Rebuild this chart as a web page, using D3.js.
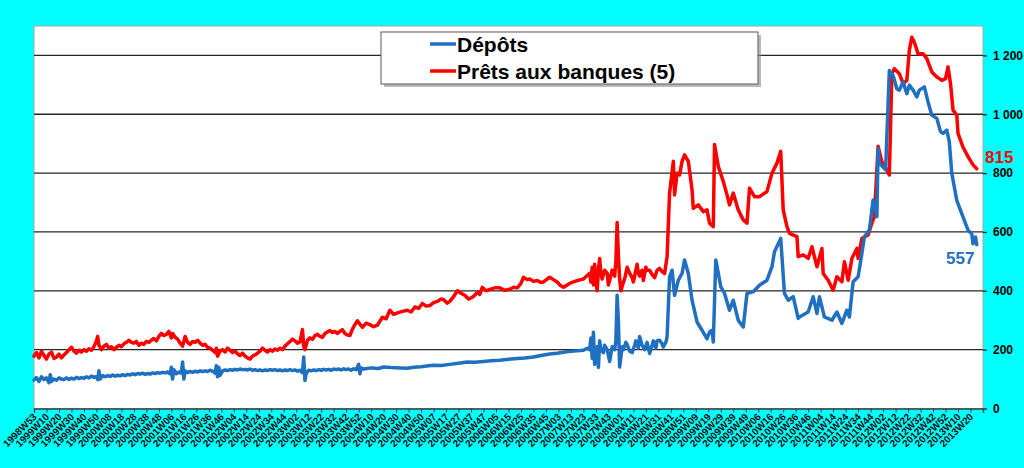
<!DOCTYPE html>
<html>
<head>
<meta charset="utf-8">
<script src="https://cdn.jsdelivr.net/npm/d3@7"></script>
<style>
  html, body { margin: 0; padding: 0; background: #00ffff; }
  svg { display: block; font-family: "Liberation Sans", Arial, sans-serif; }
</style>
</head>
<body>
<div id="chart"></div>
<script>
// week labels shown on the axis, one every 10 weeks (index 0, 10, 20 ...)
const weekLabels = [
  "1998W53", "1999W10", "1999W20", "1999W30", "1999W40", "1999W50",
  "2000W08", "2000W18", "2000W28", "2000W38", "2000W48",
  "2001W06", "2001W16", "2001W26", "2001W36", "2001W46",
  "2002W04", "2002W14", "2002W24", "2002W34", "2002W44",
  "2003W02", "2003W12", "2003W22", "2003W32", "2003W42", "2003W52",
  "2004W10", "2004W20", "2004W30", "2004W40", "2004W50",
  "2005W07", "2005W17", "2005W27", "2005W37", "2005W47",
  "2006W05", "2006W15", "2006W25", "2006W35", "2006W45",
  "2007W03", "2007W13", "2007W23", "2007W33", "2007W43",
  "2008W01", "2008W11", "2008W21", "2008W31", "2008W41", "2008W51",
  "2009W09", "2009W19", "2009W29", "2009W39", "2009W49",
  "2010W06", "2010W16", "2010W26", "2010W36", "2010W46",
  "2011W04", "2011W14", "2011W24", "2011W34", "2011W44",
  "2012W02", "2012W12", "2012W22", "2012W32", "2012W42", "2012W52",
  "2013W10", "2013W20"
];
const weekCount = 760;
const yTicks = [0, 200, 400, 600, 800, 1000, 1200];

// Dépôts : [week index, value]
const depots = [
  [0,97],[2,105],[4,92],[6,108],[8,98],[10,104],[12,88],[13,115],[14,92],[16,100],[18,96],[20,104],
  [22,100],[24,98],[26,104],[28,99],[30,103],[32,100],[34,106],[36,102],[38,105],[40,103],[42,108],
  [44,104],[46,110],[48,106],[50,108],[51,98],[52,128],[53,100],[55,112],[57,108],[59,112],[61,109],
  [63,114],[65,110],[67,113],[69,111],[71,115],[73,112],[75,116],[77,114],[79,118],[81,115],[83,119],
  [85,117],[87,120],[89,116],[91,119],[93,117],[95,121],[97,119],[99,122],[101,120],[103,123],[105,121],
  [107,124],[109,118],[110,140],[111,100],[112,132],[114,118],[116,124],[118,120],[119,158],[120,100],
  [121,128],[123,122],[125,126],[127,123],[129,127],[131,124],[133,128],[135,125],[137,128],[139,126],
  [141,130],[143,127],[145,120],[146,145],[147,108],[148,140],[149,112],[151,128],[153,131],[155,129],
  [157,132],[159,130],[161,133],[163,131],[165,134],[167,132],[169,133],[171,131],[173,134],[175,130],
  [177,132],[179,129],[181,131],[183,128],[185,131],[187,129],[189,132],[191,130],[193,132],[195,129],
  [197,131],[199,128],[201,131],[203,129],[205,132],[207,129],[209,131],[211,127],[213,130],[215,122],
  [216,175],[217,95],[218,120],[220,130],[222,128],[224,131],[226,129],[228,132],[230,130],[232,133],
  [234,131],[236,133],[238,130],[240,134],[242,132],[244,134],[246,131],[248,135],[250,132],[252,134],
  [254,130],[256,135],[258,132],[260,150],[261,118],[262,138],[264,134],[270,138],[276,136],[280,141],
  [286,139],[293,138],[299,137],[304,140],[310,142],[316,145],[320,147],[326,146],[333,150],[340,154],
  [347,158],[353,157],[360,160],[366,162],[373,164],[380,167],[387,170],[393,172],[400,175],[406,180],
  [413,185],[419,188],[425,192],[432,195],[440,198],[443,205],[445,200],[446,240],[447,170],[448,259],
  [449,150],[450,180],[451,210],[452,140],[453,230],[454,200],[456,190],[457,215],[459,200],[461,160],
  [463,210],[465,200],[466,230],[467,385],[468,300],[469,141],[471,210],[472,200],[474,225],[475,217],
  [477,195],[479,190],[481,215],[482,230],[484,205],[485,245],[487,215],[489,200],[491,225],[493,187],
  [495,215],[496,230],[498,205],[499,230],[501,232],[503,220],[504,209],[506,225],[507,243],[509,448],
  [511,470],[513,385],[516,436],[519,459],[521,505],[524,459],[527,368],[531,294],[535,266],[539,237],
  [541,260],[543,266],[544,226],[546,505],[550,414],[553,391],[557,334],[560,368],[564,300],[568,277],
  [571,391],[576,397],[581,419],[587,436],[591,482],[593,533],[598,578],[601,391],[604,368],[608,380],
  [612,306],[613,311],[620,328],[624,380],[627,323],[629,380],[633,311],[639,300],[643,328],[647,289],
  [651,334],[653,311],[656,431],[660,448],[663,527],[665,584],[669,607],[672,709],[675,652],[676,884],
  [677,834],[682,811],[685,1149],[688,1132],[691,1087],[693,1082],[696,1110],[699,1070],[701,1099],
  [704,1082],[707,1059],[709,1082],[713,1093],[716,1042],[719,997],[723,986],[726,941],[728,935],
  [731,946],[733,907],[735,800],[739,707],[742,673],[744,651],[748,606],[751,594],[752,560],[754,583],
  [755,557]
];

// Prêts aux banques (5) : [week index, value]
const prets = [
  [0,178],[2,190],[4,172],[6,195],[8,180],[10,168],[12,185],[14,192],[16,170],[18,175],[20,185],
  [22,172],[24,182],[26,190],[28,200],[30,208],[32,195],[34,188],[36,198],[38,192],[40,200],[42,195],
  [44,203],[46,198],[48,210],[50,230],[51,245],[52,215],[54,200],[56,212],[58,218],[60,205],[62,210],
  [64,200],[66,208],[68,215],[70,210],[72,220],[74,225],[76,232],[78,225],[80,222],[82,228],[84,215],
  [86,222],[88,218],[90,228],[92,225],[94,232],[96,238],[98,230],[100,245],[102,255],[104,248],
  [106,252],[108,262],[110,240],[111,255],[113,242],[115,236],[117,222],[119,212],[121,245],[123,225],
  [125,218],[127,228],[129,225],[131,232],[133,222],[135,215],[137,218],[139,208],[141,205],[143,198],
  [145,190],[146,205],[147,178],[149,195],[151,200],[153,192],[155,205],[157,198],[159,190],[161,195],
  [163,186],[165,180],[167,188],[169,178],[171,172],[173,168],[175,178],[177,182],[179,188],[181,195],
  [183,205],[185,198],[187,192],[189,200],[191,195],[193,202],[195,198],[197,205],[199,200],[201,212],
  [203,220],[205,228],[207,236],[209,230],[211,222],[213,226],[215,268],[216,210],[217,200],[219,232],
  [221,240],[223,235],[225,248],[227,252],[229,245],[231,242],[233,255],[235,260],[237,265],[239,258],
  [241,262],[243,255],[245,262],[247,268],[249,255],[251,250],[253,248],[255,270],[257,285],[259,298],
  [263,276],[266,290],[269,285],[272,278],[275,283],[279,310],[282,305],[285,334],[288,320],[291,325],
  [295,330],[299,334],[302,328],[305,345],[308,340],[311,357],[314,348],[317,350],[320,360],[323,364],
  [326,372],[328,370],[331,358],[333,364],[336,380],[339,400],[342,392],[345,385],[348,372],[351,378],
  [353,385],[355,395],[357,388],[359,412],[362,400],[365,405],[369,410],[373,410],[377,402],[381,405],
  [384,412],[387,410],[390,425],[392,446],[395,438],[397,440],[400,432],[403,435],[406,428],[408,430],
  [411,440],[413,446],[416,438],[419,430],[421,420],[424,412],[427,420],[429,425],[432,430],[435,435],
  [438,438],[440,440],[443,452],[445,459],[446,430],[447,480],[448,420],[449,490],[450,430],[451,400],
  [452,470],[453,510],[454,460],[455,440],[457,470],[459,460],[460,420],[461,435],[463,470],[465,450],
  [466,500],[467,632],[468,520],[469,440],[470,400],[472,430],[473,440],[475,480],[477,460],[479,445],
  [480,430],[482,470],[483,490],[484,460],[485,450],[487,470],[488,435],[490,480],[491,470],[493,470],
  [495,455],[497,445],[499,470],[501,476],[503,465],[505,459],[507,516],[509,732],[512,840],[513,726],
  [515,800],[517,794],[519,840],[521,862],[524,840],[527,743],[528,680],[532,692],[536,669],[539,675],
  [541,630],[544,618],[545,897],[548,823],[552,772],[555,726],[557,692],[560,732],[564,675],[568,641],
  [571,630],[573,749],[577,720],[581,720],[587,737],[591,800],[595,834],[598,874],[600,675],[603,618],
  [605,595],[611,584],[612,516],[616,522],[620,510],[623,550],[627,482],[631,544],[632,459],[636,436],
  [640,402],[643,448],[647,431],[649,499],[652,436],[655,510],[659,544],[660,510],[663,578],[668,590],
  [671,630],[673,652],[676,891],[679,839],[683,811],[685,794],[687,1138],[689,1155],[693,1138],
  [696,1104],[699,1115],[701,1217],[703,1262],[705,1245],[708,1206],[712,1206],[715,1189],[719,1144],
  [723,1127],[727,1115],[730,1121],[732,1161],[734,1104],[736,1014],[739,997],[740,935],[744,888],
  [748,856],[752,828],[755,815]
];

const blue = "#1f70c1";
const red = "#ff0000";

const width = 1024, height = 468;
const plot = { left: 34, right: 983, top: 26, bottom: 408.5 };

const svg = d3.select("#chart").append("svg")
    .attr("width", width)
    .attr("height", height);

svg.append("rect")
    .attr("width", width)
    .attr("height", height)
    .attr("fill", "#00ffff");

const x = d3.scaleLinear().domain([0, weekCount]).range([plot.left, plot.right]);
const y = d3.scaleLinear().domain([0, 1300]).range([plot.bottom, plot.top]);

// plot area
svg.append("rect")
    .attr("x", plot.left)
    .attr("y", plot.top)
    .attr("width", plot.right - plot.left)
    .attr("height", plot.bottom - plot.top)
    .attr("fill", "#fff")
    .attr("stroke", "#a6a6a6")
    .attr("stroke-width", 1);

// gridlines
svg.append("g")
    .selectAll("line")
    .data(yTicks.filter(d => d > 0))
    .join("line")
    .attr("x1", plot.left)
    .attr("x2", plot.right)
    .attr("y1", d => y(d))
    .attr("y2", d => y(d))
    .attr("stroke", "#262626")
    .attr("stroke-width", 1.3);

// right axis
const fmt = d => d3.format(",")(d).replace(",", " ");
const yAxis = svg.append("g")
    .attr("transform", `translate(${plot.right},0)`)
    .call(d3.axisRight(y).tickValues(yTicks).tickSize(4).tickPadding(6).tickFormat(fmt));
yAxis.select(".domain").remove();
yAxis.selectAll("line").attr("stroke", "#262626").attr("stroke-width", 1.3);
yAxis.selectAll("text")
    .attr("fill", "#000")
    .style("font-size", "12px")
    .style("font-weight", "bold");

// bottom axis, labels turned 45 degrees
const xAxis = svg.append("g")
    .attr("transform", `translate(0,${plot.bottom})`)
    .call(d3.axisBottom(x)
        .tickValues(d3.range(0, weekCount + 1, 10))
        .tickSize(4)
        .tickFormat(d => weekLabels[d / 10] || ""));
xAxis.select(".domain").attr("stroke", "#404040").attr("stroke-width", 1.5);
xAxis.selectAll("line").attr("stroke", "#404040");
xAxis.selectAll("text")
    .attr("y", 0)
    .attr("dy", 0)
    .attr("transform", "translate(3,9) rotate(-45)")
    .attr("text-anchor", "end")
    .attr("fill", "#111")
    .style("font-size", "10px")
    .style("font-weight", "bold");

// series
const line = d3.line()
    .x(d => x(d[0]))
    .y(d => y(d[1]));

const series = [
    { name: "Prêts aux banques (5)", color: red, data: prets },
    { name: "Dépôts", color: blue, data: depots }
];

svg.append("g")
    .selectAll("path")
    .data(series)
    .join("path")
    .attr("d", d => line(d.data))
    .attr("fill", "none")
    .attr("stroke", d => d.color)
    .attr("stroke-width", 3.5)
    .attr("stroke-linejoin", "round")
    .attr("stroke-linecap", "round");

// last value labels
const lastPrets = prets[prets.length - 1][1];
const lastDepots = depots[depots.length - 1][1];

svg.append("text")
    .attr("x", 985)
    .attr("y", y(lastPrets) - 6)
    .attr("fill", red)
    .style("font-size", "17px")
    .style("font-weight", "bold")
    .text(lastPrets);

svg.append("text")
    .attr("x", 946)
    .attr("y", y(lastDepots) + 19)
    .attr("fill", blue)
    .style("font-size", "17px")
    .style("font-weight", "bold")
    .text(lastDepots);

// legend
const legend = svg.append("g").attr("transform", "translate(381,32)");

legend.append("rect")
    .attr("x", 3)
    .attr("y", 3)
    .attr("width", 377)
    .attr("height", 52)
    .attr("fill", "#8c8c8c")
    .attr("opacity", 0.6);

legend.append("rect")
    .attr("width", 377)
    .attr("height", 52)
    .attr("fill", "#fff")
    .attr("stroke", "#595959")
    .attr("stroke-width", 1);

const legendItems = legend.selectAll(".item")
    .data(series.slice().reverse())
    .join("g")
    .attr("class", "item")
    .attr("transform", (d, i) => `translate(0,${12 + i * 27})`);

legendItems.append("line")
    .attr("x1", 49)
    .attr("x2", 75)
    .attr("stroke", d => d.color)
    .attr("stroke-width", 3.5);

legendItems.append("text")
    .attr("x", 76)
    .attr("y", 8)
    .attr("fill", "#000")
    .style("font-size", "21px")
    .style("font-weight", "bold")
    .text(d => d.name);
</script>
</body>
</html>
